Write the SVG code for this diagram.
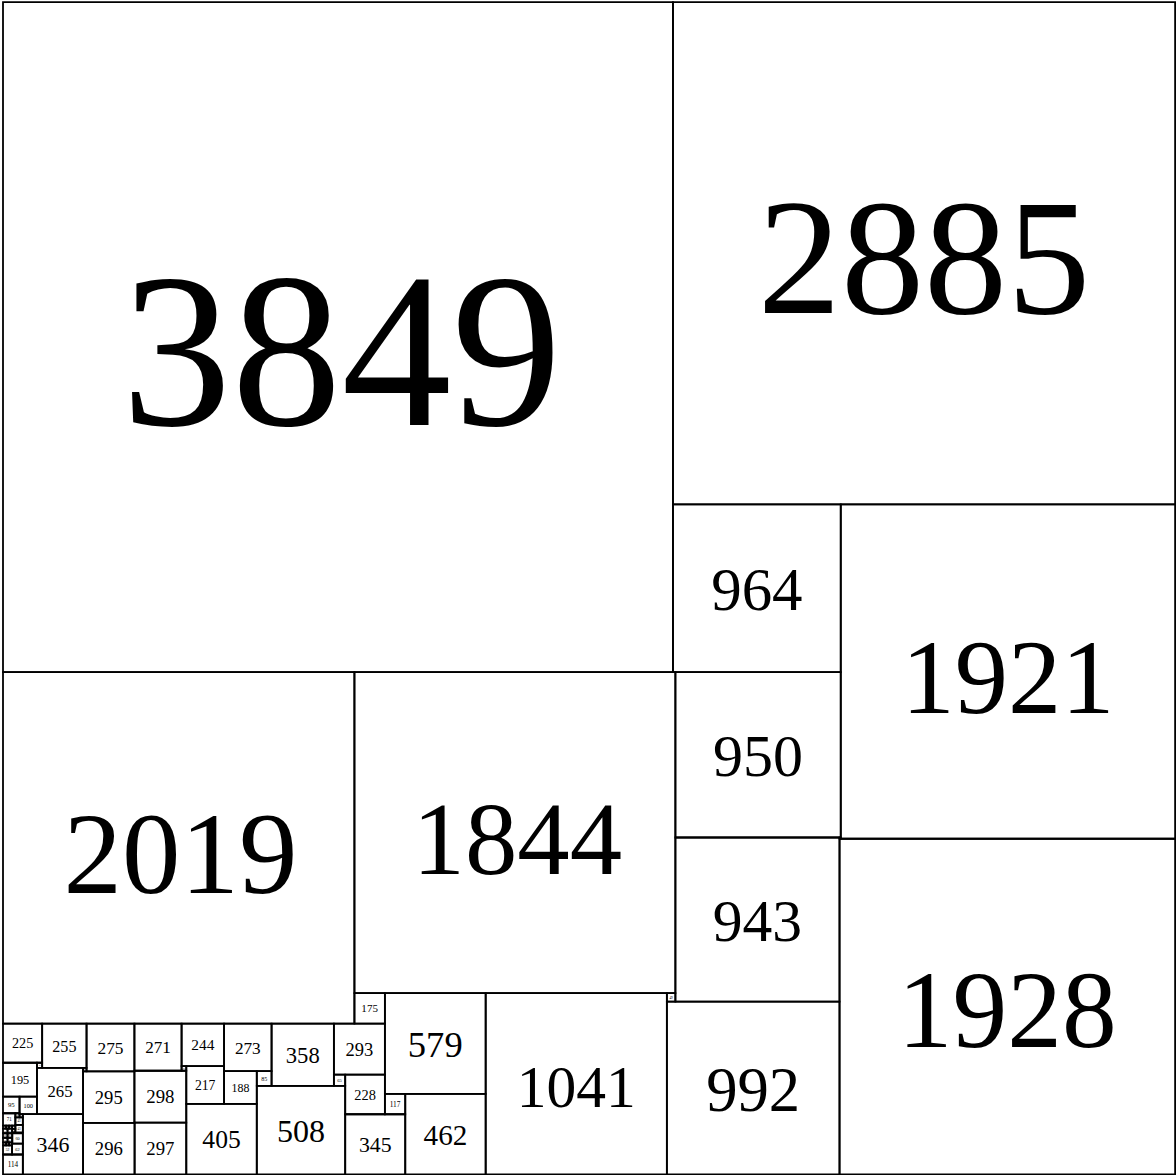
<svg xmlns="http://www.w3.org/2000/svg" width="1176" height="1175" viewBox="0 0 1176 1175">
<style>
rect.sq{fill:none;stroke:#000;stroke-width:1.8;vector-effect:non-scaling-stroke}
text{font-family:"Liberation Serif","Times New Roman",serif;text-anchor:middle;fill:#000}
</style>
<rect x="0" y="0" width="1176" height="1175" fill="#fff"/>
<g id="squares" transform="translate(3,2.2) scale(0.17406)">
<g id="s3849"><rect class="sq" x="0" y="0" width="3849" height="3849"/><text x="1944.5" y="2431" font-size="1264">3849</text></g>
<g id="s2885"><rect class="sq" x="3849" y="0" width="2885" height="2885"/><text x="5291.5" y="1784" font-size="955">2885</text></g>
<g id="s964"><rect class="sq" x="3849" y="2885" width="964" height="964"/><text x="4331" y="3493" font-size="350">964</text></g>
<g id="s1921"><rect class="sq" x="4813" y="2885" width="1921" height="1921"/><text x="5773.5" y="4081" font-size="612">1921</text></g>
<g id="s950"><rect class="sq" x="3863" y="3849" width="950" height="950"/><text x="4338" y="4448.2" font-size="344.9">950</text></g>
<g id="s943"><rect class="sq" x="3863" y="4799" width="943" height="943"/><text x="4334.5" y="5393.7" font-size="342.3">943</text></g>
<g id="s7"><rect class="sq" x="4806" y="4799" width="7" height="7"/><text x="4809.5" y="4804.3" font-size="5">7</text></g>
<g id="s1928"><rect class="sq" x="4806" y="4806" width="1928" height="1928"/><text x="5770" y="6002.6" font-size="629">1928</text></g>
<g id="s992"><rect class="sq" x="3814" y="5742" width="992" height="992"/><text x="4310" y="6367.6" font-size="360.1">992</text></g>
<g id="s49"><rect class="sq" x="3814" y="5693" width="49" height="49"/><text x="3838.5" y="5724.7" font-size="20.1">49</text></g>
<g id="s1041"><rect class="sq" x="2773" y="5693" width="1041" height="1041"/><text x="3293.5" y="6345" font-size="342">1041</text></g>
<g id="s2019"><rect class="sq" x="0" y="3849" width="2019" height="2019"/><text x="1020" y="5118" font-size="672">2019</text></g>
<g id="s1844"><rect class="sq" x="2019" y="3849" width="1844" height="1844"/><text x="2955" y="5010" font-size="602">1844</text></g>
<g id="s175"><rect class="sq" x="2019" y="5693" width="175" height="175"/><text x="2106.5" y="5803.4" font-size="63.5">175</text></g>
<g id="s579"><rect class="sq" x="2194" y="5693" width="579" height="579"/><text x="2483.5" y="6058.2" font-size="210.2">579</text></g>
<g id="s462"><rect class="sq" x="2311" y="6272" width="462" height="462"/><text x="2542" y="6563.4" font-size="167.7">462</text></g>
<g id="s117"><rect class="sq" x="2194" y="6272" width="117" height="117"/><text x="2252.5" y="6345.8" font-size="42.5">117</text></g>
<g id="s345"><rect class="sq" x="1966" y="6389" width="345" height="345"/><text x="2138.5" y="6606.6" font-size="125.2">345</text></g>
<g id="s228"><rect class="sq" x="1966" y="6161" width="228" height="228"/><text x="2080" y="6304.8" font-size="82.8">228</text></g>
<g id="s293"><rect class="sq" x="1901" y="5868" width="293" height="293"/><text x="2047.5" y="6052.8" font-size="106.4">293</text></g>
<g id="s65"><rect class="sq" x="1901" y="6161" width="65" height="65"/><text x="1933.5" y="6203.1" font-size="26.7">65</text></g>
<g id="s508"><rect class="sq" x="1458" y="6226" width="508" height="508"/><text x="1712" y="6546.4" font-size="184.4">508</text></g>
<g id="s358"><rect class="sq" x="1543" y="5868" width="358" height="358"/><text x="1722" y="6093.8" font-size="130">358</text></g>
<g id="s85"><rect class="sq" x="1458" y="6141" width="85" height="85"/><text x="1500.5" y="6196.1" font-size="34.9">85</text></g>
<g id="s273"><rect class="sq" x="1270" y="5868" width="273" height="273"/><text x="1406.5" y="6040.2" font-size="99.1">273</text></g>
<g id="s188"><rect class="sq" x="1270" y="6141" width="188" height="188"/><text x="1364" y="6259.6" font-size="68.2">188</text></g>
<g id="s405"><rect class="sq" x="1053" y="6329" width="405" height="405"/><text x="1255.5" y="6584.4" font-size="147">405</text></g>
<g id="s217"><rect class="sq" x="1053" y="6112" width="217" height="217"/><text x="1161.5" y="6248.9" font-size="78.8">217</text></g>
<g id="s244"><rect class="sq" x="1026" y="5868" width="244" height="244"/><text x="1148" y="6021.9" font-size="88.6">244</text></g>
<g id="s27"><rect class="sq" x="1026" y="6112" width="27" height="27"/><text x="1039.5" y="6129.5" font-size="11.1">27</text></g>
<g id="s271"><rect class="sq" x="755" y="5868" width="271" height="271"/><text x="890.5" y="6038.9" font-size="98.4">271</text></g>
<g id="s298"><rect class="sq" x="755" y="6139" width="298" height="298"/><text x="904" y="6327" font-size="108.2">298</text></g>
<g id="s297"><rect class="sq" x="756" y="6437" width="297" height="297"/><text x="904.5" y="6624.3" font-size="107.8">297</text></g>
<g id="s1"><rect class="sq" x="755" y="6437" width="1" height="1"/></g>
<g id="s296"><rect class="sq" x="460" y="6438" width="296" height="296"/><text x="608" y="6624.7" font-size="107.4">296</text></g>
<g id="s295"><rect class="sq" x="460" y="6143" width="295" height="295"/><text x="607.5" y="6329.1" font-size="107.1">295</text></g>
<g id="s275"><rect class="sq" x="480" y="5868" width="275" height="275"/><text x="617.5" y="6041.4" font-size="99.8">275</text></g>
<g id="s20"><rect class="sq" x="460" y="6123" width="20" height="20"/><text x="470" y="6136" font-size="8.2">20</text></g>
<g id="s255"><rect class="sq" x="225" y="5868" width="255" height="255"/><text x="352.5" y="6028.8" font-size="92.6">255</text></g>
<g id="s265"><rect class="sq" x="195" y="6123" width="265" height="265"/><text x="327.5" y="6290.1" font-size="96.2">265</text></g>
<g id="s225"><rect class="sq" x="0" y="5868" width="225" height="225"/><text x="112.5" y="6009.9" font-size="81.7">225</text></g>
<g id="s30"><rect class="sq" x="195" y="6093" width="30" height="30"/><text x="210" y="6112.4" font-size="12.3">30</text></g>
<g id="s195"><rect class="sq" x="0" y="6093" width="195" height="195"/><text x="97.5" y="6216" font-size="70.8">195</text></g>
<g id="s95"><rect class="sq" x="0" y="6288" width="95" height="95"/><text x="47.5" y="6349.5" font-size="39">95</text></g>
<g id="s100"><rect class="sq" x="95" y="6288" width="100" height="100"/><text x="145" y="6351.1" font-size="36.3">100</text></g>
<g id="s346"><rect class="sq" x="114" y="6388" width="346" height="346"/><text x="287" y="6606.2" font-size="125.6">346</text></g>
<g id="s114"><rect class="sq" x="0" y="6620" width="114" height="114"/><text x="57" y="6691.9" font-size="41.4">114</text></g>
<g id="s52"><rect class="sq" x="0" y="6568" width="52" height="52"/><text x="26" y="6601.7" font-size="21.3">52</text></g>
<g id="s62"><rect class="sq" x="52" y="6558" width="62" height="62"/><text x="83" y="6598.1" font-size="25.4">62</text></g>
<g id="s71"><rect class="sq" x="0" y="6383" width="71" height="71"/><text x="35.5" y="6429" font-size="29.1">71</text></g>
<g id="s24"><rect class="sq" x="71" y="6383" width="24" height="24"/><text x="83" y="6398.5" font-size="9.8">24</text></g>
<g id="s19a"><rect class="sq" x="95" y="6388" width="19" height="19"/><text x="104.5" y="6400.3" font-size="7.8">19</text></g>
<g id="s43a"><rect class="sq" x="71" y="6407" width="43" height="43"/><text x="92.5" y="6434.8" font-size="17.6">43</text></g>
<g id="s18a"><rect class="sq" x="0" y="6454" width="18" height="18"/><text x="9" y="6465.7" font-size="7.4">18</text></g>
<g id="s17a"><rect class="sq" x="18" y="6454" width="17" height="17"/><text x="26.5" y="6465" font-size="7">17</text></g>
<g id="s17b"><rect class="sq" x="35" y="6454" width="17" height="17"/><text x="43.5" y="6465" font-size="7">17</text></g>
<g id="s19b"><rect class="sq" x="52" y="6454" width="19" height="19"/><text x="61.5" y="6466.3" font-size="7.8">19</text></g>
<g id="s43b"><rect class="sq" x="71" y="6450" width="43" height="43"/><text x="92.5" y="6477.8" font-size="17.6">43</text></g>
<g id="s19c"><rect class="sq" x="52" y="6473" width="19" height="19"/><text x="61.5" y="6485.3" font-size="7.8">19</text></g>
<g id="s60"><rect class="sq" x="54" y="6498" width="60" height="60"/><text x="84" y="6536.9" font-size="24.6">60</text></g>
<g id="s26a"><rect class="sq" x="0" y="6472" width="26" height="26"/><text x="13" y="6488.8" font-size="10.7">26</text></g>
<g id="s26b"><rect class="sq" x="26" y="6472" width="26" height="26"/><text x="39" y="6488.8" font-size="10.7">26</text></g>
<g id="s26c"><rect class="sq" x="0" y="6498" width="26" height="26"/><text x="13" y="6514.8" font-size="10.7">26</text></g>
<g id="s26d"><rect class="sq" x="26" y="6498" width="26" height="26"/><text x="39" y="6514.8" font-size="10.7">26</text></g>
<g id="s26e"><rect class="sq" x="0" y="6524" width="26" height="26"/><text x="13" y="6540.8" font-size="10.7">26</text></g>
<g id="s26f"><rect class="sq" x="26" y="6524" width="26" height="26"/><text x="39" y="6540.8" font-size="10.7">26</text></g>
<g id="s18b"><rect class="sq" x="0" y="6550" width="18" height="18"/><text x="9" y="6561.7" font-size="7.4">18</text></g>
<g id="s17c"><rect class="sq" x="18" y="6551" width="17" height="17"/><text x="26.5" y="6562" font-size="7">17</text></g>
<g id="s17d"><rect class="sq" x="35" y="6551" width="17" height="17"/><text x="43.5" y="6562" font-size="7">17</text></g>
</g>
<g id="connectors"/>
</svg>
